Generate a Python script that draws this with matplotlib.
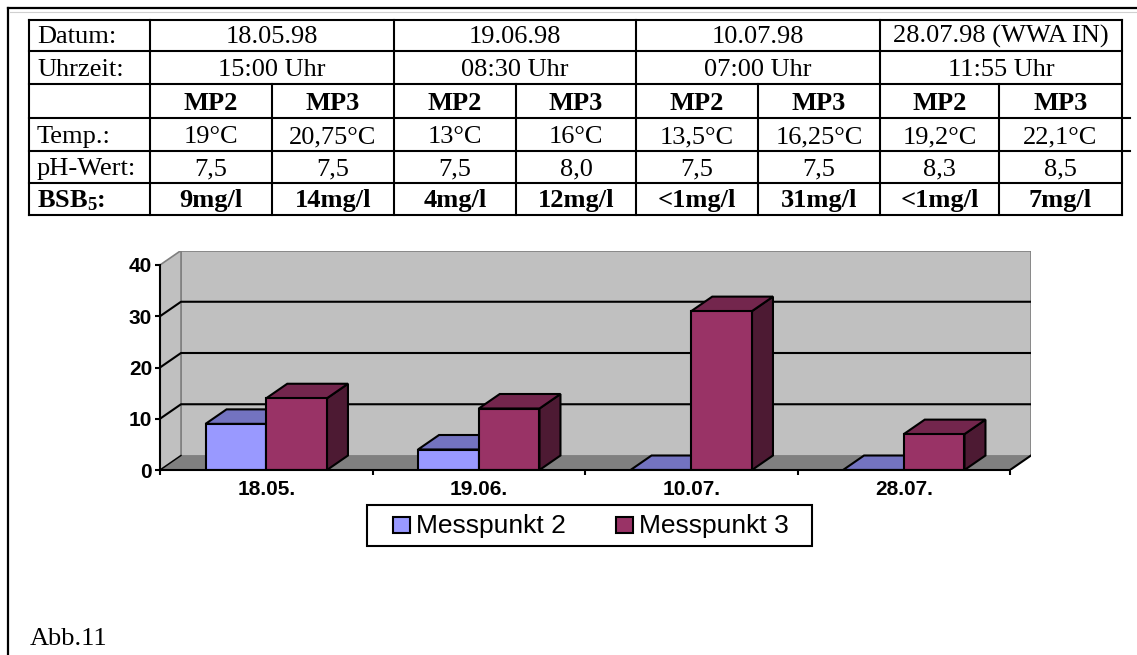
import matplotlib
matplotlib.use("Agg")
import matplotlib.pyplot as plt
from matplotlib.patches import Polygon, Rectangle

# ---- data -----------------------------------------------------------------
dates = ["18.05.98", "19.06.98", "10.07.98", "28.07.98 (WWA IN)"]
times = ["15:00 Uhr", "08:30 Uhr", "07:00 Uhr", "11:55 Uhr"]
points = ["MP2", "MP3"]
temp_mp2 = ["19°C", "13°C", "13,5°C", "19,2°C"]
temp_mp3 = ["20,75°C", "16°C", "16,25°C", "22,1°C"]
ph_mp2 = ["7,5", "7,5", "7,5", "8,3"]
ph_mp3 = ["7,5", "8,0", "7,5", "8,5"]
bsb_mp2 = [9, 4, 0, 0]      # 0 stands for "below 1 mg/l"
bsb_mp3 = [14, 12, 31, 7]
categories = ["18.05.", "19.06.", "10.07.", "28.07."]
series_names = ["Messpunkt 2", "Messpunkt 3"]
y_ticks = [0, 10, 20, 30, 40]

# ---- styling --------------------------------------------------------------
plt.rcParams["mathtext.fontset"] = "custom"
plt.rcParams["mathtext.rm"] = "Liberation Serif"
plt.rcParams["mathtext.bf"] = "Liberation Serif:bold"

SERIF = "Liberation Serif"
SANS = "Liberation Sans"
TFS = 19          # table / caption text size
AFS = 15          # axis tick label size
LFS = 19          # legend text size
front_cols = ["#9999FF", "#993366"]
top_cols = ["#7373C0", "#73264D"]
side_cols = ["#4D4D80", "#4D1A33"]
WALL = "#C0C0C0"
FLOOR = "#808080"
LW = 1.5

W, H = 1137, 655
fig = plt.figure(figsize=(W / 100, H / 100), dpi=100)
fig.patch.set_facecolor("white")

# page-like overlay in pixel units
bg = fig.add_axes([0, 0, 1, 1])
bg.set_xlim(0, W)
bg.set_ylim(H, 0)
bg.axis("off")

# outer frame
bg.plot([8, 8], [8, H], color="black", lw=1.6, solid_capstyle="projecting")
bg.plot([8, W], [8, 8], color="black", lw=1.6, solid_capstyle="projecting")
bg.plot([10, W], [11.5, 11.5], color="#d0d0d0", lw=0.8)

# ---- table ----------------------------------------------------------------
col_x = [29, 150, 272, 394, 516, 636, 758, 880, 999, 1122]
row_y = [20, 51, 84, 118, 151, 183, 215]

def hline(y, x0, x1):
    bg.plot([x0, x1], [y, y], color="black", lw=LW, solid_capstyle="projecting")

def vline(x, y0, y1):
    bg.plot([x, x], [y0, y1], color="black", lw=LW, solid_capstyle="projecting")

for i, y in enumerate(row_y):
    x_end = 1130 if i in (3, 4) else col_x[-1]
    hline(y, col_x[0], x_end)
for j, x in enumerate(col_x):
    if j in (0, 1) or (j - 1) % 2 == 0:
        vline(x, row_y[0], row_y[-1])
    else:
        vline(x, row_y[2], row_y[-1])

def base(r):
    return row_y[r + 1] - 8

row_labels = ["Datum:", "Uhrzeit:", "", "Temp.:", "pH-Wert:", r"$\mathbf{BSB_5}$:"]
for r, lab in enumerate(row_labels):
    bold = r == 5
    bg.text(37, base(r), lab, family=SERIF, fontsize=TFS, va="baseline", ha="left",
            fontweight="bold" if bold else "normal")

for k in range(4):
    xc = (col_x[1 + 2 * k] + col_x[3 + 2 * k]) / 2
    bg.text(xc, base(0), dates[k], family=SERIF, fontsize=TFS, ha="center", va="baseline")
    bg.text(xc, base(1), times[k], family=SERIF, fontsize=TFS, ha="center", va="baseline")

def bsb_label(v):
    return f"{v}mg/l" if v >= 1 else "<1mg/l"

for k in range(4):
    for s in range(2):
        c = 1 + 2 * k + s
        xc = (col_x[c] + col_x[c + 1]) / 2
        temp = (temp_mp2 if s == 0 else temp_mp3)[k]
        ph = (ph_mp2 if s == 0 else ph_mp3)[k]
        bsb = (bsb_mp2 if s == 0 else bsb_mp3)[k]
        bg.text(xc, base(2), points[s], family=SERIF, fontsize=TFS, fontweight="bold",
                ha="center", va="baseline")
        bg.text(xc, base(3), temp, family=SERIF, fontsize=TFS, ha="center", va="baseline")
        bg.text(xc, base(4), ph, family=SERIF, fontsize=TFS, ha="center", va="baseline")
        bg.text(xc, base(5), bsb_label(bsb), family=SERIF, fontsize=TFS, fontweight="bold",
                ha="center", va="baseline")

# ---- 3D column chart ------------------------------------------------------
n = len(categories)
ymax = y_ticks[-1]
ux, uy = 212.5, 5.125           # pixels per category / per mg/l
ddx, ddy = 21 / ux, 14.5 / uy   # depth offset in data units
x0_px, y0_px = 160, 470

ax = fig.add_axes([x0_px / W, (H - y0_px) / H,
                   (n + ddx) * ux / W, (ymax + ddy) * uy / H])
ax.set_xlim(0, n + ddx)
ax.set_ylim(0, ymax + ddy)
ax.set_facecolor("none")

# walls and floor
ax.add_patch(Polygon([(ddx, ddy), (n + ddx, ddy), (n + ddx, ymax + ddy), (ddx, ymax + ddy)],
                     closed=True, fc=WALL, ec=FLOOR, lw=1.2, zorder=1))
ax.add_patch(Polygon([(0, 0), (ddx, ddy), (ddx, ymax + ddy), (0, ymax)],
                     closed=True, fc=WALL, ec=FLOOR, lw=1.2, zorder=1))
ax.add_patch(Polygon([(0, 0), (n, 0), (n + ddx, ddy), (ddx, ddy)],
                     closed=True, fc=FLOOR, ec="none", zorder=1))
ax.plot([0, ddx], [0, ddy], color="black", lw=1.0, zorder=1.5)
ax.plot([n, n + ddx], [0, ddy], color="black", lw=LW, zorder=1.5)

# gridlines on side and back wall
for v in y_ticks[1:-1]:
    ax.plot([0, ddx, n + ddx], [v, v + ddy, v + ddy], color="black", lw=LW, zorder=2)

def bar3d(x0, w, h, s, z):
    kw = dict(ec="black", lw=LW, joinstyle="miter", zorder=z)
    ax.add_patch(Polygon([(x0 + w, 0), (x0 + w + ddx, ddy), (x0 + w + ddx, h + ddy), (x0 + w, h)],
                         closed=True, fc=side_cols[s], **kw))
    ax.add_patch(Polygon([(x0, h), (x0 + w, h), (x0 + w + ddx, h + ddy), (x0 + ddx, h + ddy)],
                         closed=True, fc=top_cols[s], **kw))
    ax.add_patch(Rectangle((x0, 0), w, h, fc=front_cols[s], **kw))

bw = 1 / 3.5
gap = (1 - 2 * bw) / 2
for i in range(n):
    for s, vals in enumerate([bsb_mp2, bsb_mp3]):
        bar3d(i + gap + s * bw, bw, vals[i], s, 3 + i * 2 + s)

# axes
for side in ("top", "right"):
    ax.spines[side].set_visible(False)
ax.spines["left"].set_bounds(0, ymax)
ax.spines["bottom"].set_bounds(0, n)
for side in ("left", "bottom"):
    ax.spines[side].set_linewidth(LW)
    ax.spines[side].set_zorder(20)

ax.set_yticks(y_ticks)
ax.set_yticklabels([str(t) for t in y_ticks], fontsize=AFS, fontweight="bold", family=SANS)
ax.tick_params(axis="y", length=3.6, width=LW, pad=2.0, direction="out")

ax.set_xticks(range(n + 1))
ax.set_xticklabels([""] * (n + 1))
ax.set_xticks([i + 0.5 for i in range(n)], minor=True)
ax.set_xticklabels(categories, minor=True, fontsize=AFS, fontweight="bold", family=SANS)
ax.tick_params(axis="x", which="major", length=3.6, width=LW, direction="out")
ax.tick_params(axis="x", which="minor", length=0, pad=7.5)

# legend box
bg.add_patch(Rectangle((367, 505), 445, 41, fill=False, ec="black", lw=LW))
leg_marker_x = [393, 616]
for s, name in enumerate(series_names):
    bg.add_patch(Rectangle((leg_marker_x[s], 517), 17, 16, fc=front_cols[s], ec="black", lw=LW))
    bg.text(leg_marker_x[s] + 23, 533.5, name, family=SANS, fontsize=LFS, ha="left", va="baseline")

# caption
bg.text(30, 645, "Abb.11", family=SERIF, fontsize=TFS, ha="left", va="baseline")

fig.savefig("out.png", dpi=100)
